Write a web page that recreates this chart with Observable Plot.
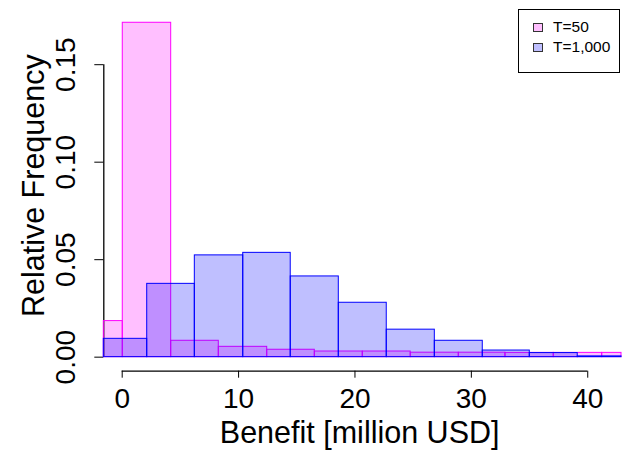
<!DOCTYPE html>
<html>
<head>
<meta charset="utf-8">
<script src="https://cdn.jsdelivr.net/npm/d3@7"></script>
<script src="https://cdn.jsdelivr.net/npm/@observablehq/plot@0.6"></script>
<style>
  html, body { margin: 0; padding: 0; background: #fff; }
  #wrap { position: relative; width: 627px; height: 452px; font-family: "Liberation Sans", Arial, sans-serif; color: #000; }
  #wrap svg { font-family: "Liberation Sans", Arial, sans-serif; }
  #legend { position: absolute; left: 518px; top: 9px; width: 100px; height: 62px; border: 1px solid #000; background: #fff; font-size: 15.5px; color: #000; }
  .item { position: absolute; left: 14px; display: flex; align-items: center; height: 16px; }
  .sw { width: 8px; height: 7px; border: 1px solid #333; margin-right: 10px; }
</style>
</head>
<body>
<div id="wrap"></div>
<script>
// Series names
const seriesNames = ["T=50", "T=1,000"];
// Bin breaks (x, million USD)
const pinkBreaks = [-4.07, 0.05, 4.21, 8.30, 12.46, 16.55, 20.67, 24.79, 28.92, 32.93, 37.08, 41.24, 45.36];
const pinkValues = [0.0185, 0.1715, 0.0084, 0.0053, 0.0038, 0.0029, 0.0029, 0.0023, 0.0023, 0.0022, 0.0022, 0.0022];
const blueBreaks = [-1.96, 2.15, 6.24, 10.40, 14.48, 18.61, 22.73, 26.86, 30.98, 35.02, 39.14, 43.25];
const blueValues = [0.0094, 0.0376, 0.0522, 0.0535, 0.0414, 0.0279, 0.0141, 0.0084, 0.0034, 0.0021, 0.0004];
// Axis ticks
const xTicks = [0, 10, 20, 30, 40];
const yTicks = [0, 0.05, 0.10, 0.15];
const xLabel = "Benefit [million USD]";
const yLabel = "Relative Frequency";

const toBins = (breaks, values) => values.map((v, i) => ({x1: breaks[i], x2: breaks[i + 1], y: v}));
const pinkBins = toBins(pinkBreaks, pinkValues);
const blueBins = toBins(blueBreaks, blueValues);

const xDomain = [-1.58, 42.9];
const yDomain = [-0.0072, 0.179];

const chart = Plot.plot({
  width: 627,
  height: 452,
  marginLeft: 103.3,
  marginRight: 6,
  marginTop: 7.65,
  marginBottom: 81.3,
  x: {domain: xDomain, clamp: true, axis: null},
  y: {domain: yDomain, axis: null},
  marks: [
    Plot.ruleY([yDomain[0]], {x1: xTicks[0], x2: xTicks[xTicks.length - 1], stroke: "#000", strokeWidth: 1.3}),
    Plot.ruleX([xDomain[0]], {y1: yTicks[0], y2: yTicks[yTicks.length - 1], stroke: "#000", strokeWidth: 1.3}),
    Plot.axisX(xTicks, {anchor: "bottom", tickSize: 7, tickPadding: 10, fontSize: 28, label: null, stroke: "#000", fill: "#000"}),
    Plot.axisY(yTicks, {anchor: "left", tickSize: 9, tickPadding: 20, tickRotate: -90, fontSize: 28, tickFormat: d3.format(".2f"), label: null, stroke: "#000", fill: "#000"}),
    Plot.rectY(pinkBins, {x1: "x1", x2: "x2", y1: 0, y2: "y", fill: "#ff00ff", fillOpacity: 0.25, stroke: "#ff00ff", strokeWidth: 1}),
    Plot.rectY(blueBins, {x1: "x1", x2: "x2", y1: 0, y2: "y", fill: "#0000ff", fillOpacity: 0.25, stroke: "#0000ff", strokeWidth: 1}),
    Plot.text([xLabel], {frameAnchor: "bottom", dy: 50, dx: -3, lineAnchor: "top", fontSize: 30.5, fill: "#000"}),
    Plot.text([yLabel], {frameAnchor: "left", dx: -70, dy: -4, rotate: -90, textAnchor: "middle", lineAnchor: "middle", fontSize: 30.5, fill: "#000"})
  ]
});

const wrap = document.getElementById("wrap");
wrap.appendChild(chart);

const legend = document.createElement("div");
legend.id = "legend";
const legendColors = ["rgba(255,0,255,0.25)", "rgba(0,0,255,0.25)"];
seriesNames.forEach((name, i) => {
  const item = document.createElement("div");
  item.className = "item";
  item.style.top = (9 + i * 20) + "px";
  const sw = document.createElement("div");
  sw.className = "sw";
  sw.style.background = legendColors[i];
  const t = document.createElement("span");
  t.textContent = name;
  item.appendChild(sw);
  item.appendChild(t);
  legend.appendChild(item);
});
wrap.appendChild(legend);
</script>
</body>
</html>
